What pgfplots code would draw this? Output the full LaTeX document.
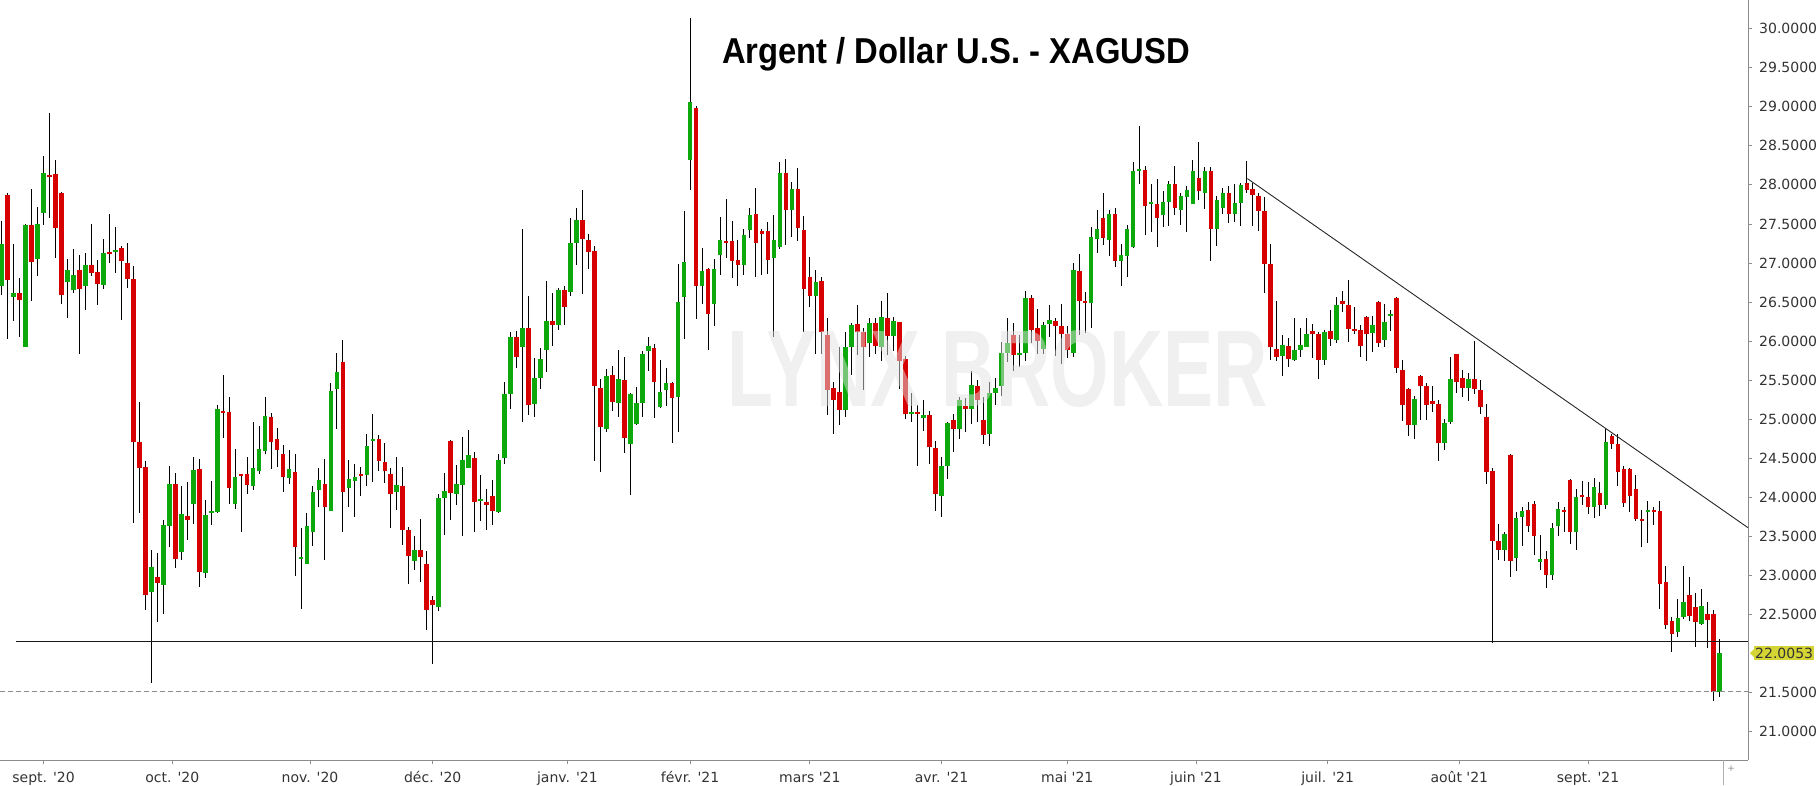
\documentclass[border=0pt]{standalone}
\usepackage{fontspec}
\setmainfont{DejaVu Sans}
\newfontfamily\titlefont{Liberation Sans}
\usepackage{pgfplots}
\pgfplotsset{compat=1.18}
\usepackage{pgfplotstable}
\definecolor{upg}{RGB}{12,168,12}
\definecolor{dnr}{RGB}{214,0,0}
\definecolor{axgray}{RGB}{140,140,140}
\definecolor{pricey}{RGB}{212,212,52}
\definecolor{wm}{RGB}{225,225,225}
\definecolor{lbl}{RGB}{51,51,51}

\pgfplotstableread{
i O H L C
1 26.71 27.54 26.59 27.24
2 27.87 27.90 26.03 26.78
3 26.56 27.24 26.26 26.62
4 26.62 26.81 26.05 26.53
5 25.92 27.50 25.92 27.49
6 27.49 27.95 26.51 27.01
7 27.05 27.72 26.83 27.50
8 27.64 28.37 27.48 28.15
9 28.12 28.92 27.57 28.10
10 28.14 28.32 27.06 27.45
11 27.90 27.91 26.48 26.59
12 26.75 27.05 26.29 26.91
13 26.65 27.18 26.62 26.84
14 26.91 27.10 25.84 26.67
15 26.70 27.13 26.40 26.97
16 26.97 27.50 26.83 26.87
17 26.89 27.04 26.46 26.73
18 26.72 27.31 26.67 27.13
19 27.14 27.63 27.00 27.12
20 27.14 27.46 26.87 27.16
21 27.19 27.22 26.27 27.03
22 27.00 27.25 26.68 26.80
23 26.80 26.96 23.67 24.71
24 24.71 25.22 23.80 24.38
25 24.39 24.46 22.56 22.75
26 22.79 23.33 21.62 23.11
27 22.98 23.29 22.40 22.90
28 22.88 23.71 22.50 23.65
29 23.63 24.40 23.36 24.17
30 24.17 24.31 23.10 23.21
31 23.30 24.15 23.20 23.79
32 23.76 24.20 23.45 23.71
33 23.91 24.51 23.66 24.35
34 24.36 24.49 22.85 23.04
35 23.03 23.97 22.97 23.77
36 23.80 24.21 23.64 23.82
37 23.81 25.18 23.80 25.13
38 25.10 25.56 24.76 25.08
39 25.09 25.28 23.91 24.12
40 23.91 24.62 23.85 24.26
41 24.29 24.30 23.55 24.27
42 24.30 24.52 24.04 24.16
43 24.15 24.96 24.09 24.38
44 24.33 24.91 24.30 24.62
45 24.59 25.29 24.55 25.04
46 25.03 25.08 24.36 24.71
47 24.74 24.89 24.39 24.61
48 24.55 24.67 24.07 24.26
49 24.25 24.61 24.17 24.36
50 24.33 24.55 22.99 23.36
51 23.21 23.61 22.57 23.23
52 23.15 23.80 23.14 23.63
53 23.56 24.15 23.37 24.07
54 24.09 24.37 23.88 24.22
55 24.17 24.49 23.20 23.88
56 23.83 25.46 23.82 25.36
57 25.38 25.85 24.88 25.61
58 25.73 26.02 23.55 24.07
59 24.12 24.48 23.88 24.23
60 24.21 24.42 23.75 24.26
61 24.29 24.39 24.02 24.27
62 24.28 24.81 24.14 24.66
63 24.72 25.06 24.20 24.74
64 24.74 24.80 24.33 24.47
65 24.45 24.69 24.18 24.33
66 24.30 24.37 23.61 24.04
67 24.07 24.52 23.84 24.16
68 24.14 24.39 23.39 23.58
69 23.58 23.62 22.89 23.25
70 23.19 23.50 23.07 23.33
71 23.33 23.72 22.92 23.23
72 23.14 23.31 22.30 22.56
73 22.68 22.73 21.86 22.62
74 22.60 24.04 22.55 23.99
75 23.99 24.31 23.52 24.08
76 24.72 24.73 23.71 24.06
77 24.04 24.41 23.90 24.17
78 24.16 24.77 23.50 24.48
79 24.38 24.86 24.37 24.54
80 24.50 24.58 23.56 23.94
81 23.96 24.28 23.69 23.98
82 23.94 24.11 23.58 23.90
83 24.01 24.22 23.64 23.83
84 23.81 24.55 23.80 24.48
85 24.50 25.48 24.43 25.32
86 25.32 26.11 25.13 26.05
87 26.05 26.13 25.65 25.79
88 25.92 27.43 24.96 26.17
89 26.17 26.58 25.05 25.18
90 25.20 25.78 25.03 25.53
91 25.53 25.91 25.39 25.77
92 25.88 26.77 25.61 26.26
93 26.26 26.62 25.94 26.21
94 26.21 26.68 26.14 26.65
95 26.65 26.70 26.21 26.43
96 26.63 27.58 26.58 27.25
97 27.25 27.70 26.98 27.55
98 27.55 27.93 26.60 27.31
99 27.30 27.37 26.92 27.14
100 27.15 27.22 24.46 25.43
101 25.40 25.51 24.32 24.90
102 24.88 25.64 24.84 25.55
103 25.57 25.68 25.11 25.22
104 25.21 25.89 25.03 25.51
105 25.50 25.79 24.57 24.76
106 24.68 25.34 24.03 25.32
107 24.94 25.41 24.92 25.21
108 25.21 25.87 25.03 25.84
109 25.87 26.05 25.62 25.94
110 25.91 25.96 25.01 25.48
111 25.15 25.76 25.14 25.35
112 25.37 25.65 25.17 25.46
113 25.46 25.48 24.69 25.27
114 25.29 26.99 24.84 26.50
115 26.56 27.66 26.03 27.01
116 28.32 30.14 27.94 29.06
117 28.99 29.01 26.28 26.71
118 26.71 27.19 26.48 26.90
119 26.92 26.94 25.89 26.35
120 26.48 27.05 26.19 26.92
121 27.10 27.59 26.84 27.29
122 27.28 27.82 27.07 27.26
123 27.28 27.54 26.81 27.03
124 27.04 27.29 26.70 26.98
125 26.98 27.44 26.85 27.36
126 27.42 27.71 27.32 27.61
127 27.63 27.96 26.82 27.25
128 27.40 27.44 26.85 27.38
129 27.41 27.53 26.86 27.04
130 27.06 27.61 26.05 27.29
131 27.20 28.29 27.18 28.15
132 28.15 28.33 27.23 27.68
133 27.68 28.04 27.33 27.95
134 27.95 28.22 27.28 27.45
135 27.42 27.60 26.12 26.67
136 26.82 27.08 26.43 26.58
137 26.58 26.91 25.83 26.76
138 26.77 26.82 25.84 26.11
139 26.08 26.30 25.05 25.37
140 25.40 25.47 24.81 25.24
141 25.35 25.92 24.93 25.12
142 25.12 26.12 25.03 25.92
143 25.93 26.23 25.56 26.21
144 26.22 26.46 25.82 26.12
145 26.11 26.17 25.37 25.92
146 25.98 26.30 25.80 26.23
147 26.23 26.30 25.83 25.94
148 25.92 26.51 25.75 26.31
149 26.29 26.62 25.82 26.07
150 26.07 26.31 25.87 26.26
151 26.24 26.25 25.39 25.75
152 25.77 25.81 25.00 25.06
153 25.07 25.34 24.97 25.09
154 25.09 25.18 24.40 25.07
155 25.01 25.24 24.85 25.05
156 25.05 25.10 24.43 24.65
157 24.63 24.72 23.83 24.04
158 24.02 24.52 23.75 24.40
159 24.40 24.96 24.23 24.95
160 24.99 25.06 24.58 24.88
161 24.88 25.29 24.74 25.25
162 25.16 25.27 24.84 25.14
163 25.13 25.62 24.94 25.44
164 25.43 25.50 24.96 25.24
165 24.99 25.28 24.68 24.80
166 24.81 25.47 24.66 25.34
167 25.34 25.53 25.18 25.40
168 25.42 25.99 25.30 25.85
169 25.85 26.29 25.73 25.97
170 26.08 26.23 25.62 25.82
171 25.82 26.08 25.67 25.84
172 25.85 26.64 25.75 26.55
173 26.55 26.59 25.98 26.14
174 26.17 26.41 25.84 26.00
175 25.90 26.24 25.83 26.21
176 26.22 26.46 26.05 26.27
177 26.26 26.29 25.81 26.19
178 26.19 26.48 25.71 26.09
179 26.09 26.19 25.78 25.88
180 25.85 27.00 25.79 26.91
181 26.90 27.11 26.08 26.51
182 26.51 26.63 26.10 26.49
183 26.49 27.46 26.17 27.33
184 27.31 27.68 27.13 27.43
185 27.58 27.90 27.23 27.32
186 27.30 27.68 27.09 27.63
187 27.63 27.71 26.95 27.03
188 27.02 27.24 26.71 27.10
189 27.09 27.49 26.82 27.43
190 27.20 28.29 27.19 28.18
191 28.18 28.76 28.01 28.20
192 28.19 28.24 27.36 27.73
193 27.75 28.01 27.40 27.78
194 27.75 28.08 27.20 27.57
195 27.61 27.92 27.46 27.78
196 27.78 28.05 27.47 28.01
197 28.01 28.24 27.61 27.70
198 27.68 27.90 27.49 27.86
199 27.85 27.98 27.40 27.94
200 27.76 28.32 27.75 28.18
201 28.09 28.55 27.81 27.92
202 27.90 28.23 27.69 28.18
203 28.18 28.23 27.03 27.44
204 27.44 27.86 27.22 27.81
205 27.71 27.96 27.63 27.90
206 27.90 27.98 27.51 27.63
207 27.63 28.01 27.52 27.77
208 27.77 28.03 27.47 28.00
209 28.03 28.30 27.90 27.94
210 27.95 28.02 27.47 27.87
211 27.86 27.90 27.41 27.67
212 27.67 27.84 26.61 26.99
213 26.99 27.24 25.76 25.92
214 25.90 26.51 25.74 25.79
215 25.81 26.08 25.55 25.95
216 25.94 26.04 25.67 25.77
217 25.76 26.30 25.75 25.89
218 25.88 26.17 25.79 25.95
219 25.93 26.30 25.92 26.09
220 26.12 26.22 25.78 26.10
221 26.09 26.12 25.51 25.76
222 25.76 26.14 25.69 26.12
223 26.13 26.40 25.94 26.03
224 26.02 26.56 25.98 26.46
225 26.51 26.64 26.37 26.47
226 26.46 26.78 25.99 26.16
227 26.15 26.44 26.09 26.13
228 26.14 26.21 25.79 25.94
229 26.31 26.32 25.75 26.09
230 26.10 26.32 25.86 26.20
231 26.50 26.51 25.92 25.98
232 26.01 26.47 25.93 26.25
233 26.32 26.40 26.13 26.34
234 26.55 26.56 25.59 25.66
235 25.63 25.76 24.98 25.18
236 25.39 25.40 24.79 24.92
237 24.93 25.30 24.74 25.26
238 25.55 25.56 24.99 25.42
239 25.42 25.46 24.99 25.18
240 25.23 25.42 25.09 25.19
241 25.20 25.25 24.47 24.69
242 24.69 25.00 24.60 24.95
243 24.96 25.80 24.94 25.51
244 25.83 25.84 25.33 25.48
245 25.53 25.63 25.28 25.40
246 25.40 25.59 25.23 25.52
247 25.52 26.00 25.32 25.38
248 25.37 25.50 25.07 25.15
249 25.03 25.19 24.17 24.33
250 24.34 24.37 22.14 23.44
251 23.44 23.66 23.20 23.33
252 23.33 23.56 23.18 23.53
253 24.54 24.55 22.98 23.18
254 23.22 23.81 23.05 23.73
255 23.75 23.88 23.38 23.82
256 23.84 23.94 23.55 23.63
257 23.92 23.95 23.26 23.50
258 23.17 23.52 23.07 23.21
259 23.21 23.31 22.84 23.00
260 23.01 23.67 22.94 23.61
261 23.63 23.94 23.51 23.85
262 23.84 23.87 23.55 23.81
263 24.22 24.23 23.40 23.55
264 23.55 24.11 23.32 24.00
265 24.03 24.21 23.90 24.01
266 24.00 24.19 23.78 23.88
267 23.88 24.25 23.73 24.13
268 24.06 24.20 23.76 23.90
269 23.90 24.87 23.85 24.71
270 24.79 24.81 24.62 24.68
271 24.68 24.81 24.14 24.32
272 24.36 24.40 23.88 23.93
273 24.36 24.37 23.81 24.02
274 24.11 24.29 23.70 23.72
275 23.72 23.84 23.36 23.70
276 23.81 23.95 23.41 23.83
277 23.83 23.88 23.64 23.81
278 23.82 23.95 22.57 22.89
279 22.91 23.12 22.31 22.37
280 22.42 22.47 22.02 22.25
281 22.27 22.70 22.21 22.46
282 22.47 23.12 22.44 22.66
283 22.75 22.98 22.42 22.48
284 22.59 22.78 22.08 22.40
285 22.38 22.83 22.36 22.61
286 22.51 22.66 22.07 22.43
287 22.50 22.56 21.39 21.51
288 21.51 22.18 21.44 22.0053
}\candles

\begin{document}
\begin{tikzpicture}
\useasboundingbox (0,0) rectangle (1819pt,785pt);
\begin{axis}[
  at={(0pt,25pt)}, anchor=south west,
  width=1748pt, height=760pt, scale only axis,
  xmin=0.716, xmax=292.73, ymin=20.636, ymax=30.367,
  clip=false,
  axis x line*=bottom, axis y line*=right,
  axis line style={draw=axgray, line width=1pt},
  tick align=outside, major tick length=4pt,
  tick style={draw=axgray, line width=0.8pt},
  /pgf/number format/assume math mode=true,
  tick label style={font=\fontsize{14}{16}\selectfont, text=lbl},
  xtick={8,29.5,52.5,73,95.5,116,136,158,179,200.5,222.5,244.5,266},
  xticklabels={sept. \textquotesingle20, oct. \textquotesingle20, nov. \textquotesingle20, déc. \textquotesingle20, janv. \textquotesingle21, févr. \textquotesingle21, mars \textquotesingle21, avr. \textquotesingle21, mai \textquotesingle21, juin \textquotesingle21, juil. \textquotesingle21, août \textquotesingle21, sept. \textquotesingle21},
  xticklabel style={anchor=base, inner sep=0pt, yshift=-18pt},
  ytick={21,21.5,22.5,23,23.5,24,24.5,25,25.5,26,26.5,27,27.5,28,28.5,29,29.5,30},
  yticklabel style={anchor=west, inner sep=0pt, xshift=7pt,
    /pgf/number format/fixed, /pgf/number format/fixed zerofill,
    /pgf/number format/precision=4},
  scaled y ticks=false,
]
% wicks
\addplot[draw=none, mark=none, forget plot,
  error bars/.cd, y dir=both, y explicit, error mark=none,
  error bar style={draw=black, line width=1.0pt, solid}]
  table[x=i, y expr={(\thisrow{H}+\thisrow{L})/2},
        y error expr={(\thisrow{H}-\thisrow{L})/2}] {\candles};
% up bodies
\addplot[draw=none, mark=none, forget plot,
  error bars/.cd, y dir=both, y explicit, error mark=none,
  error bar style={draw=upg, line width=4.6pt, solid}]
  table[x=i, y expr={\thisrow{C}>=\thisrow{O} ? (\thisrow{O}+\thisrow{C})/2 : nan},
        y error expr={max(abs(\thisrow{C}-\thisrow{O})/2,0.014)}] {\candles};
% down bodies
\addplot[draw=none, mark=none, forget plot,
  error bars/.cd, y dir=both, y explicit, error mark=none,
  error bar style={draw=dnr, line width=4.6pt, solid}]
  table[x=i, y expr={\thisrow{C}<\thisrow{O} ? (\thisrow{O}+\thisrow{C})/2 : nan},
        y error expr={max(abs(\thisrow{C}-\thisrow{O})/2,0.014)}] {\candles};
% support, dashed and trend lines
\addplot[black!90, line width=0.9pt, mark=none] coordinates {(3.39,22.15) (292.73,22.15)};
\addplot[axgray, line width=0.9pt, mark=none, dash pattern=on 5pt off 3pt] coordinates {(0.716,21.51) (292.73,21.51)};
\addplot[black!85, line width=0.9pt, mark=none] coordinates {(209.1,28.08) (292.73,23.61)};
% watermark
\node[text=wm, text opacity=0.5, inner sep=0pt, anchor=center] at (axis cs:167.37,25.64)
  {\titlefont\bfseries\fontsize{109}{109}\selectfont\scalebox{0.69}[1]{LYNX BROKER}};
% last price box
\node[anchor=west, fill=pricey, text=lbl, inner xsep=1pt, inner ysep=0pt, minimum height=14pt,
  font=\fontsize{14}{16}\selectfont, xshift=6pt] (pb) at (axis cs:292.73,22.0053) {22.0053};
\fill[pricey] ([xshift=-4pt]pb.west) -- ([yshift=4pt]pb.west) -- ([yshift=-4pt]pb.west) -- cycle;
\end{axis}
\draw[axgray!70, line width=0.8pt] (1723pt,0pt) -- (1723pt,25pt);
\node[text=axgray, inner sep=0pt, font=\fontsize{9}{9}\selectfont] at (1731pt,16pt) {+};
\node[anchor=base, inner sep=0pt] at (956pt,721.7pt)
  {\titlefont\bfseries\fontsize{36}{40}\selectfont\scalebox{0.91}[1]{Argent / Dollar U.S. - XAGUSD}};
\end{tikzpicture}
\end{document}
